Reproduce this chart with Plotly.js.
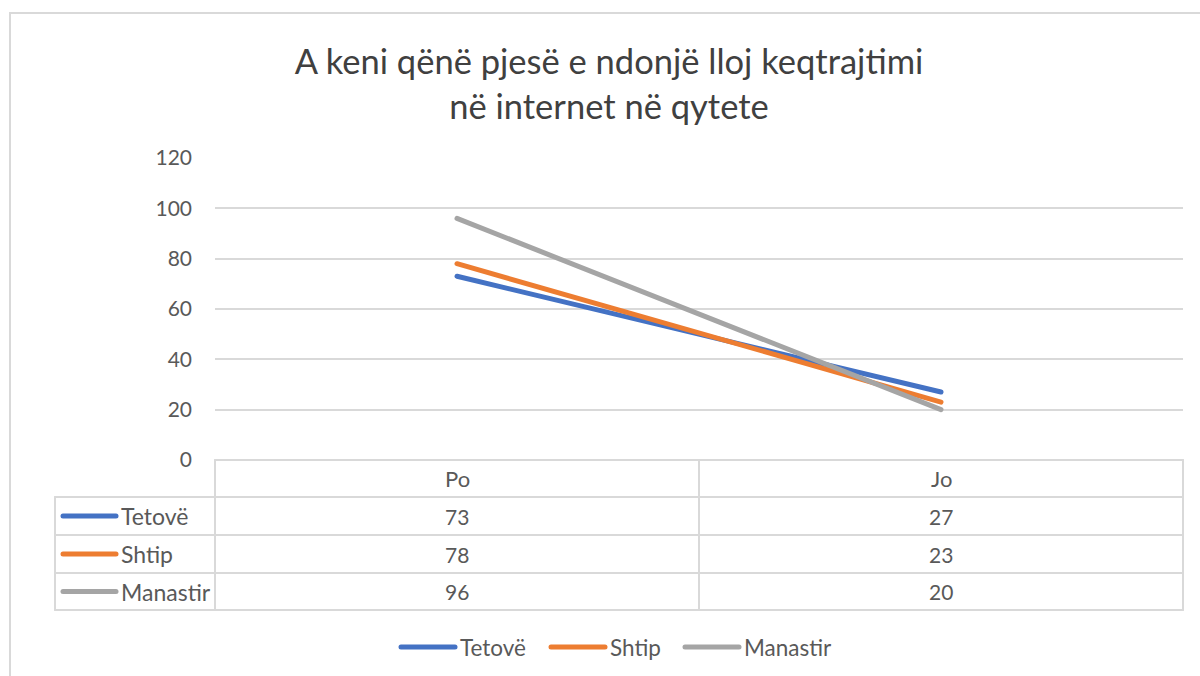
<!DOCTYPE html>
<html>
<head>
<meta charset="utf-8">
<script src="https://cdn.plot.ly/plotly-3.0.1.min.js"></script>
<style>
  html, body { margin: 0; padding: 0; background: #ffffff; }
  #chart { width: 1200px; height: 676px; }
  .scatterlayer path.js-line { stroke-linecap: round; }
  .shapelayer path { stroke-linecap: round; }
</style>
</head>
<body>
<div id="chart"></div>
<script>
// ---- data ----
const titleLines = ["A keni qënë pjesë e ndonjë lloj keqtrajtimi", "në internet në qytete"];
const categories = ["Po", "Jo"];
const seriesNames = ["Tetovë", "Shtip", "Manastir"];
const tetove = [73, 27];
const shtip = [78, 23];
const manastir = [96, 20];
const seriesColors = ["#4472C4", "#ED7D31", "#A5A5A5"];
const yTicks = [0, 20, 40, 60, 80, 100, 120];

const seriesValues = [tetove, shtip, manastir];

// ---- geometry (plot area in pixels) ----
const W = 1200, H = 676;
const L = 215, R = 1183, T = 158, B = 460;
const pw = R - L, ph = B - T;
const px = v => (v - L) / pw;      // pixel x -> paper x
const py = v => (B - v) / ph;      // pixel y -> paper y

const gridCol = "#d9d9d9";
const textCol = "#595959";
const fontFam = "Lato, 'Open Sans', sans-serif";

// traces
const traces = seriesValues.map((vals, i) => ({
  type: "scatter",
  mode: "lines",
  x: categories,
  y: vals,
  name: seriesNames[i],
  line: { color: seriesColors[i], width: 5 },
  hoverinfo: "x+y+name",
  showlegend: false
}));

const shapes = [];
const annotations = [];

// outer chart border
shapes.push({ type: "rect", xref: "paper", yref: "paper", layer: "below",
  x0: px(10), x1: px(1206), y0: py(690), y1: py(13),
  line: { color: gridCol, width: 2 }, fillcolor: "rgba(0,0,0,0)" });

// data table
const rowTops = [460, 497, 535, 573, 610];
const tableLeft = 55, labelColRight = 215;
const nCat = categories.length;
const colW = pw / nCat;
rowTops.forEach((y, k) => {
  shapes.push({ type: "line", xref: "paper", yref: "paper",
    x0: px(k === 0 ? labelColRight : tableLeft), x1: px(R), y0: py(y), y1: py(y),
    line: { color: gridCol, width: 2 } });
});
shapes.push({ type: "line", xref: "paper", yref: "paper",
  x0: px(tableLeft), x1: px(tableLeft), y0: py(rowTops[1]), y1: py(rowTops[4]),
  line: { color: gridCol, width: 2 } });
for (let c = 0; c <= nCat; c++) {
  const x = L + c * colW;
  shapes.push({ type: "line", xref: "paper", yref: "paper",
    x0: px(x), x1: px(x), y0: py(rowTops[0]), y1: py(rowTops[4]),
    line: { color: gridCol, width: 2 } });
}
categories.forEach((cat, c) => {
  annotations.push({ xref: "paper", yref: "paper",
    x: px(L + (c + 0.5) * colW), y: py((rowTops[0] + rowTops[1]) / 2),
    text: cat, showarrow: false, xanchor: "center", yanchor: "middle",
    font: { family: fontFam, size: 22, color: textCol } });
});
seriesNames.forEach((nm, i) => {
  const yc = (rowTops[i + 1] + rowTops[i + 2]) / 2;
  shapes.push({ type: "line", xref: "paper", yref: "paper",
    x0: px(63), x1: px(116), y0: py(yc), y1: py(yc),
    line: { color: seriesColors[i], width: 5 } });
  annotations.push({ xref: "paper", yref: "paper",
    x: px(119), y: py(yc), text: nm, showarrow: false,
    xanchor: "left", yanchor: "middle",
    font: { family: fontFam, size: 23, color: textCol } });
  seriesValues[i].forEach((v, c) => {
    annotations.push({ xref: "paper", yref: "paper",
      x: px(L + (c + 0.5) * colW), y: py(yc), text: String(v), showarrow: false,
      xanchor: "center", yanchor: "middle",
      font: { family: fontFam, size: 21, color: textCol } });
  });
});

// bottom legend
const legendX = [401, 551, 685];
const legendY = 647;
seriesNames.forEach((nm, i) => {
  shapes.push({ type: "line", xref: "paper", yref: "paper",
    x0: px(legendX[i]), x1: px(legendX[i] + 54), y0: py(legendY), y1: py(legendY),
    line: { color: seriesColors[i], width: 5 } });
  annotations.push({ xref: "paper", yref: "paper",
    x: px(legendX[i] + 57), y: py(legendY), text: nm, showarrow: false,
    xanchor: "left", yanchor: "middle",
    font: { family: fontFam, size: 22.5, color: textCol } });
});

const layout = {
  width: W, height: H,
  margin: { l: L, r: W - R, t: T, b: H - B, pad: 0 },
  paper_bgcolor: "#ffffff",
  plot_bgcolor: "#ffffff",
  showlegend: false,
  title: {
    text: titleLines.join("<br>"),
    font: { family: fontFam, size: 34.5, color: "#404040" },
    x: 609 / W, xanchor: "center", xref: "container",
    y: 1 - 74 / H, yanchor: "middle", yref: "container"
  },
  xaxis: {
    type: "category",
    range: [-0.5, categories.length - 0.5],
    showgrid: false, zeroline: false,
    showline: false, showticklabels: false, ticks: "",
    fixedrange: true
  },
  yaxis: {
    range: [0, 120],
    tickvals: yTicks,
    ticktext: yTicks.map(String),
    showgrid: true, gridcolor: gridCol, gridwidth: 2,
    zeroline: false, showline: false, ticks: "",
    ticklabelstandoff: 22,
    tickfont: { family: fontFam, size: 21, color: textCol },
    fixedrange: true
  },
  shapes: shapes,
  annotations: annotations
};

Plotly.newPlot("chart", traces, layout, { displayModeBar: false });
</script>
</body>
</html>
